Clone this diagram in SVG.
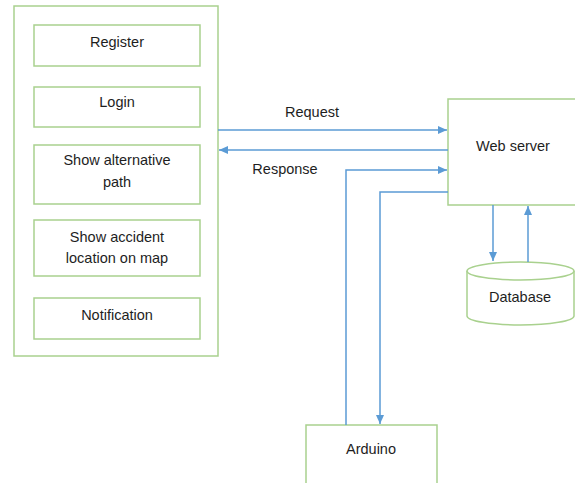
<svg xmlns="http://www.w3.org/2000/svg" width="575" height="483" viewBox="0 0 575 483">
<style>
.box{fill:#fff;stroke:#a9d18e;stroke-width:1.5}
.t{font-family:"Liberation Sans",Arial,sans-serif;font-size:14.5px;fill:#1e1e1e;text-anchor:middle}
.c{fill:none;stroke:#5b9bd5;stroke-width:1.5}
</style>
<defs>
<marker id="ah" markerWidth="10" markerHeight="10" refX="9" refY="5" orient="auto" markerUnits="userSpaceOnUse">
<path d="M0,1 L9,5 L0,9 z" fill="#5b9bd5"/>
</marker>
</defs>
<rect width="575" height="483" fill="#fff"/>
<g id="client">
<rect class="box" x="14" y="6" width="204" height="350"/>
</g>
<g id="register"><rect class="box" x="34" y="25" width="166" height="41"/><text class="t" x="117" y="47">Register</text></g>
<g id="login"><rect class="box" x="34" y="87" width="166" height="40"/><text class="t" x="117" y="107">Login</text></g>
<g id="altpath"><rect class="box" x="34" y="145" width="166" height="59"/><text class="t" x="117" y="165">Show alternative</text><text class="t" x="117" y="187">path</text></g>
<g id="accident"><rect class="box" x="34" y="220" width="166" height="56"/><text class="t" x="117" y="242">Show accident</text><text class="t" x="117" y="263">location on map</text></g>
<g id="notification"><rect class="box" x="34" y="298" width="166" height="41"/><text class="t" x="117" y="320">Notification</text></g>
<g id="webserver"><rect class="box" x="448" y="99" width="140" height="106"/><text class="t" x="513" y="151">Web server</text></g>
<g id="database">
<path class="box" d="M467,271 L467,316 A53.5,9 0 0 0 574,316 L574,271"/>
<ellipse class="box" cx="520.5" cy="271" rx="53.5" ry="9"/>
<text class="t" x="520" y="302">Database</text>
</g>
<g id="arduino"><rect class="box" x="306" y="425" width="131" height="70"/><text class="t" x="371" y="454">Arduino</text></g>
<g id="connectors">
<line class="c" x1="218" y1="130" x2="447" y2="130" marker-end="url(#ah)"/>
<line class="c" x1="448" y1="150" x2="219" y2="150" marker-end="url(#ah)"/>
<polyline class="c" points="346,425 346,170 447,170" marker-end="url(#ah)"/>
<polyline class="c" points="448,192 380,192 380,424" marker-end="url(#ah)"/>
<line class="c" x1="493" y1="205" x2="493" y2="261" marker-end="url(#ah)"/>
<line class="c" x1="528" y1="262" x2="528" y2="206" marker-end="url(#ah)"/>
<text class="t" x="312" y="117">Request</text>
<text class="t" x="285" y="174">Response</text>
</g>
</svg>
